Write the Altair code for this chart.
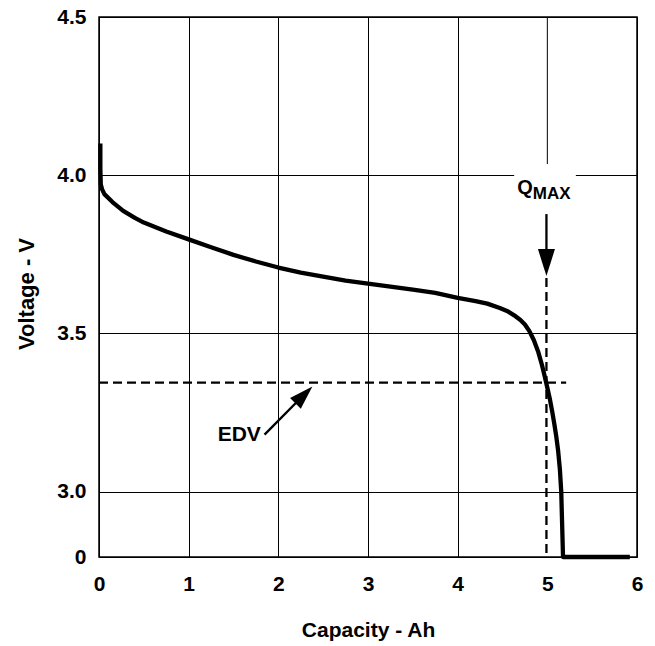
import altair as alt
import pandas as pd

# ---------------- data ----------------
capacity = [0.015, 0.015, 0.02, 0.035, 0.06, 0.15, 0.27, 0.40, 0.50, 0.75,
            1.0, 1.25, 1.5, 1.75, 2.0, 2.25, 2.5, 2.75, 3.0, 3.25,
            3.5, 3.75, 4.0, 4.2, 4.33, 4.47, 4.55, 4.63, 4.70, 4.75,
            4.80, 4.85, 4.90, 4.94, 4.97, 5.00, 5.03, 5.055, 5.08, 5.10,
            5.12, 5.14, 5.155, 5.175, 5.92]
voltage = [4.10, 4.02, 3.97, 3.955, 3.94, 3.915, 3.887, 3.865, 3.85, 3.822,
           3.797, 3.772, 3.748, 3.727, 3.708, 3.692, 3.679, 3.667, 3.657, 3.648,
           3.638, 3.628, 3.612, 3.602, 3.594, 3.58, 3.571, 3.557, 3.542, 3.528,
           3.507, 3.478, 3.44, 3.40, 3.365, 3.328, 3.29, 3.252, 3.21, 3.173,
           3.13, 3.07, 3.00, 0.0, 0.0]

x_ticks = [0, 1, 2, 3, 4, 5, 6]
y_ticks = [0, 3.0, 3.5, 4.0, 4.5]

edv_voltage = 3.344
edv_end = 5.21
qmax_capacity = 4.99

# broken axis: the "0" tick sits just below 3.0
BREAK_ZERO = 2.793
FONT = "Liberation Sans"

curve_df = pd.DataFrame({"i": list(range(len(capacity))), "cap": capacity, "v": voltage})
y_axis_values = [BREAK_ZERO if v == 0 else v for v in y_ticks]

x_scale = alt.Scale(domain=[0, 6], nice=False)
y_scale = alt.Scale(domain=[BREAK_ZERO, 4.5], nice=False, zero=False)

x_axis = alt.Axis(
    values=x_ticks, format="d", title="Capacity - Ah",
    labelFont=FONT, labelFontWeight="bold", labelFontSize=21, labelColor="black",
    labelPadding=16, labelFlush=False, ticks=False, domain=False,
    grid=True, gridColor="black", gridWidth=1,
    gridOpacity={"condition": {"test": "datum.value == 5", "value": 0}, "value": 1},
    titleFont=FONT, titleFontWeight="bold", titleFontSize=21, titleColor="black",
    titleX=269, titleY=79, titleBaseline="alphabetic", titleAlign="center",
)
y_axis = alt.Axis(
    values=y_axis_values, title="Voltage - V",
    labelExpr="datum.value < 2.9 ? '0' : format(datum.value, '.1f')",
    labelFont=FONT, labelFontWeight="bold", labelFontSize=21, labelColor="black",
    labelPadding=13, labelFlush=False, labelBaseline="middle", ticks=False, domain=False,
    grid=True, gridColor="black", gridWidth=1,
    titleFont=FONT, titleFontWeight="bold", titleFontSize=22, titleColor="black",
    titleX=-66, titleY=276.5, titleAngle=270, titleBaseline="alphabetic", titleAlign="center",
)

X = lambda f: alt.X(f, type="quantitative", scale=x_scale, axis=x_axis)
Y = lambda f: alt.Y(f, type="quantitative", scale=y_scale, axis=y_axis)

# white background behind the QMAX label
mask = alt.Chart(pd.DataFrame({"x": [4.63], "x2": [5.318], "y": [3.95], "y2": [4.035]})).mark_rect(
    color="white").encode(x=X("x"), x2="x2", y=Y("y"), y2="y2")

# upper piece of the x = 5 gridline
grid5 = alt.Chart(pd.DataFrame({"x": [5], "y": [4.035], "y2": [4.5]})).mark_rule(
    color="black", strokeWidth=1).encode(x=X("x"), y=Y("y"), y2="y2")

edv_line = alt.Chart(pd.DataFrame({"x": [0], "x2": [edv_end], "y": [edv_voltage]})).mark_rule(
    color="black", strokeWidth=2.3, strokeDash=[9, 5]).encode(x=X("x"), x2="x2", y=Y("y"))

qmax_line = alt.Chart(pd.DataFrame({"x": [qmax_capacity], "y": [3.675], "y2": [BREAK_ZERO]})).mark_rule(
    color="black", strokeWidth=2.3, strokeDash=[9, 5]).encode(x=X("x"), y=Y("y"), y2="y2")

shafts = alt.Chart(pd.DataFrame({
    "x": [1.846, qmax_capacity], "x2": [2.30, qmax_capacity],
    "y": [3.18, 3.877], "y2": [3.31, 3.74]})).mark_rule(
    color="black", strokeWidth=2.3).encode(x=X("x"), x2="x2", y=Y("y"), y2="y2")

HEAD = "M0,0L0.63,2L-0.63,2Z"
heads = alt.Chart(pd.DataFrame({
    "x": [2.38, qmax_capacity], "y": [3.332, 3.681], "a": [45, 180], "s": [576, 729]})).mark_point(
    shape=HEAD, filled=True, color="black", opacity=1, strokeWidth=0).encode(
    x=X("x"), y=Y("y"), angle=alt.Angle("a:Q", scale=None), size=alt.Size("s:Q", scale=None))

curve = alt.Chart(curve_df).transform_calculate(
    vy=f"datum.v > 0 ? datum.v : {BREAK_ZERO}").mark_line(
    color="black", strokeWidth=4.3, strokeJoin="round").encode(
    x=X("cap"), y=Y("vy"), order="i:Q")

edv_text = alt.Chart(pd.DataFrame({"x": [1.564], "y": [3.161], "t": ["EDV"]})).mark_text(
    font=FONT, fontWeight="bold", fontSize=21, color="black", align="center", baseline="alphabetic"
).encode(x=X("x"), y=Y("y"), text="t:N")

q_text = alt.Chart(pd.DataFrame({"x": [4.838], "y": [3.939], "t": ["Q"]})).mark_text(
    font=FONT, fontWeight="bold", fontSize=20, color="black", align="right", baseline="alphabetic"
).encode(x=X("x"), y=Y("y"), text="t:N")

max_text = alt.Chart(pd.DataFrame({"x": [4.838], "y": [3.924], "t": ["MAX"]})).mark_text(
    font=FONT, fontWeight="bold", fontSize=17, color="black", align="left", baseline="alphabetic"
).encode(x=X("x"), y=Y("y"), text="t:N")

chart = alt.layer(
    mask, grid5, edv_line, qmax_line, shafts, heads, curve, edv_text, q_text, max_text
).properties(
    width=538, height=540,
    autosize=alt.AutoSizeParams(type="none"),
    padding={"left": 99, "top": 17, "right": 18, "bottom": 89},
    background="white",
).configure_view(stroke="black", strokeWidth=1.5)

chart.save("out.html", embed_options={"renderer": "svg", "actions": False})
